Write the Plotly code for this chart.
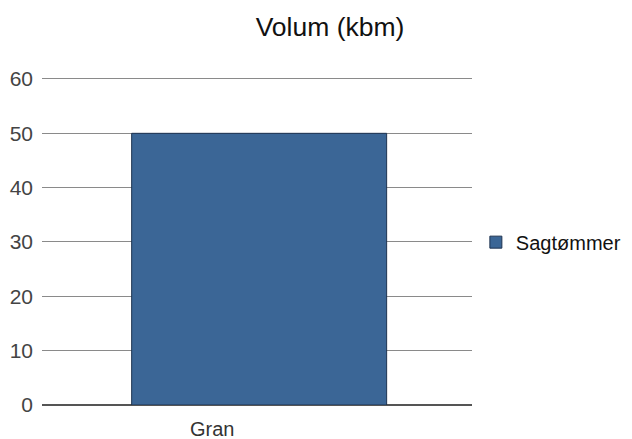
import plotly.graph_objects as go

categories = ["Gran"]
series_name = "Sagtømmer"
values = [50]
y_ticks = [0, 10, 20, 30, 40, 50, 60]

# The page body adds an 8px offset, so the figure is sized to fit the window.
W, H = 624, 431

fig = go.Figure()
fig.add_trace(go.Bar(
    x=categories, y=values, name=series_name,
    marker=dict(color="#3b6696", line=dict(color="#1e3350", width=1)),
    width=0.593,
))
fig.update_layout(
    width=W, height=H,
    margin=dict(l=34, r=160, t=68, b=34, autoexpand=False),
    paper_bgcolor="white", plot_bgcolor="white",
    font=dict(family="Liberation Sans, Arial, sans-serif", size=20, color="#222222"),
    title=dict(text="Volum (kbm)", x=322/W, xanchor="center", y=1 - 19/H, yanchor="middle",
               font=dict(size=26.5, color="#111111")),
    showlegend=True,
    legend=dict(x=1.009, xanchor="left", y=0.495, yanchor="middle", font=dict(size=20, color="#111111")),
)
fig.update_xaxes(range=[-0.505, 0.495], showgrid=False, showline=False, ticks="", automargin=False,
                 tickfont=dict(size=20, color="#333333"), ticklabelshift=-47, ticklabelstandoff=10)
fig.update_yaxes(range=[0, 60.55], tickvals=y_ticks, showgrid=True, gridcolor="#8a8a8a", gridwidth=1,
                 zeroline=True, zerolinecolor="#555555", zerolinewidth=2, automargin=False,
                 tickfont=dict(size=21, color="#444444"), ticks="", ticklen=0, ticklabelstandoff=8,
                 fixedrange=True)
fig.write_html("out.html")
